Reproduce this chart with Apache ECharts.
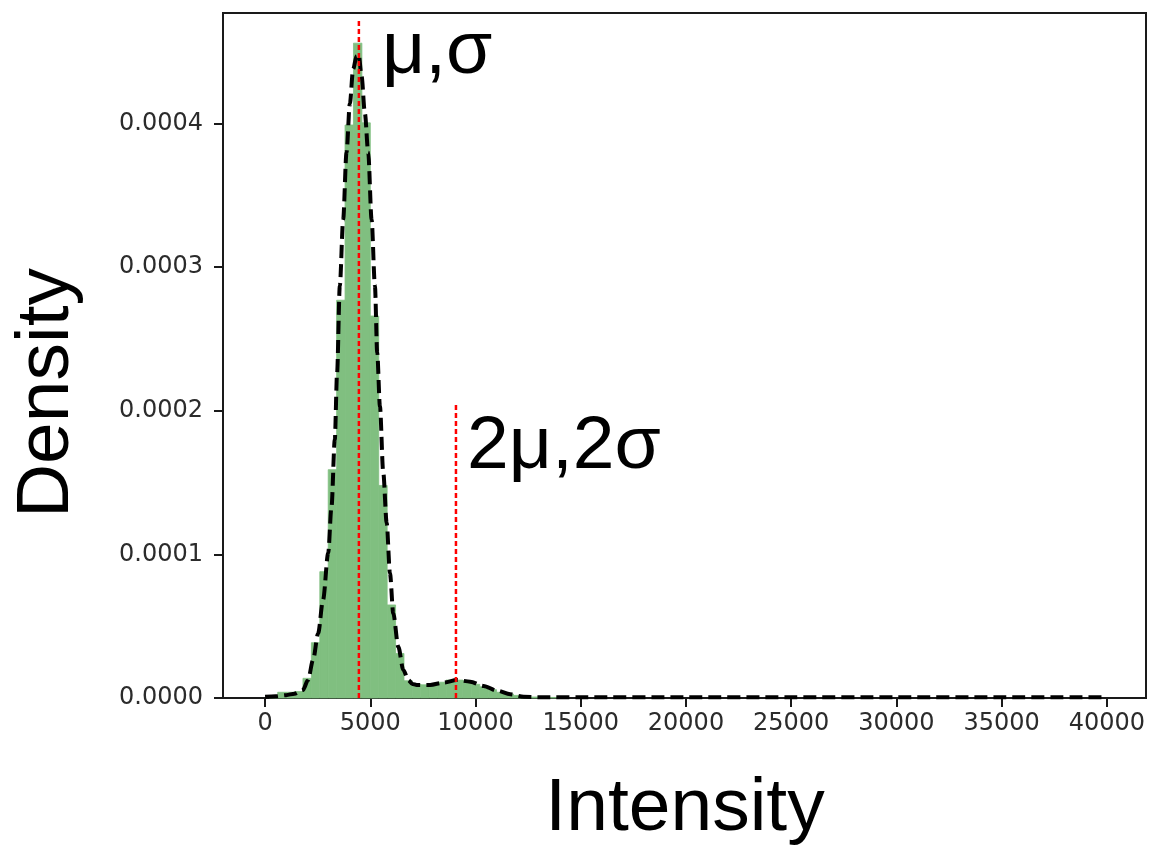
<!DOCTYPE html>
<html><head><meta charset="utf-8">
<script src="https://cdn.jsdelivr.net/npm/echarts@6/dist/echarts.min.js"></script>
<style>html,body{margin:0;padding:0;background:#fff}#c{width:1150px;height:846px}</style>
</head><body><div id="c"></div>
<script>
// Histogram bins (left edge of each bin) and density values
const BIN_WIDTH = 400;
const binStarts = [200, 600, 1000, 1400, 1800, 2200, 2600, 3000, 3400, 3800, 4200, 4600, 5000, 5400, 5800, 6200, 6600, 7000, 7400, 7800, 8200, 8600, 9000, 9400, 9800, 10200, 10600, 11000, 11400, 11800, 12200, 12600, 13000, 13400, 13800];
const binDensity = [0.0000008, 0.000004, 0.000004, 0.0000045, 0.0000137, 0.0000385, 0.000088, 0.000159, 0.000277, 0.000399, 0.000456, 0.0004005, 0.000266, 0.000148, 0.0000648, 0.000031, 0.000012, 0.0000095, 0.0000092, 0.0000095, 0.000011, 0.0000125, 0.0000125, 0.000012, 0.0000095, 0.0000078, 0.0000058, 0.000004, 0.0000028, 0.0000018, 0.000001, 0.0000007, 0.0000005, 0.0000004, 0.0000003];

// Density curve (dashed)
const kdeX = [0, 500, 1000, 1400, 1800, 2040, 2280, 2520, 2755, 3000, 3155, 3313, 3420, 3551, 3709, 3870, 4028, 4185, 4347, 4450, 4585, 4743, 4900, 5062, 5219, 5329, 5458, 5615, 5777, 5934, 6091, 6330, 6568, 6807, 7000, 7205, 7840, 8475, 9113, 9747, 10381, 11020, 11654, 12288, 13000, 15000, 20000, 25000, 30000, 35000, 39800];
const kdeY = [0.0000008, 0.0000012, 0.000002, 0.000003, 0.0000056, 0.0000125, 0.0000265, 0.000045, 0.0000683, 0.000101, 0.000133, 0.00018, 0.000226, 0.000287, 0.000333, 0.00038, 0.000414, 0.000438, 0.000447, 0.000448, 0.000433, 0.000407, 0.00038, 0.000333, 0.000287, 0.00024, 0.000203, 0.000157, 0.000122, 0.0000869, 0.000059, 0.0000357, 0.0000195, 0.0000125, 0.0000098, 0.0000091, 0.0000091, 0.0000107, 0.0000125, 0.0000114, 0.0000084, 0.0000051, 0.0000026, 0.0000009, 0.0000006, 0.0000005, 0.0000005, 0.0000005, 0.0000005, 0.0000005, 0.0000005];

// Red reference lines
const refLineX = [4457, 9070];
const refLineTop = [0.000473, 0.000206];
const refLabels = ['μ,σ', '2μ,2σ'];

// Ticks
const xTicks = [0, 5000, 10000, 15000, 20000, 25000, 30000, 35000, 40000];
const yTicks = [0, 0.0001, 0.0002, 0.0003, 0.0004];

const chart = echarts.init(document.getElementById('c'), null, {renderer: 'canvas'});
const axisColor = '#1a1a1a';
const tickFont = {fontFamily: 'DejaVu Sans', fontSize: 24, color: '#2b2b2b'};
const bigFont = '75px "Liberation Sans", Arial, sans-serif';

const barData = binStarts.map((s, i) => [s, s + BIN_WIDTH, binDensity[i]]);
const kdeData = kdeX.map((x, i) => [x, kdeY[i]]);

const refSeries = refLineX.map((x, i) => ({
  type: 'line', z: 5, symbol: 'none', silent: true,
  data: [[x, 0], [x, refLineTop[i]]],
  lineStyle: {color: '#ff0000', width: 2.5, type: [5, 3]}
}));

chart.setOption({
  animation: false,
  backgroundColor: '#fff',
  grid: {left: 223, right: 4, top: 13, bottom: 148, show: true, borderColor: axisColor, borderWidth: 2, backgroundColor: 'transparent'},
  xAxis: {
    type: 'value', min: -2000, max: 41860,
    splitLine: {show: false},
    axisLine: {show: true, onZero: false, lineStyle: {color: axisColor, width: 2}},
    axisTick: {show: true, customValues: xTicks, length: 9, lineStyle: {color: axisColor, width: 2}},
    axisLabel: Object.assign({customValues: xTicks, margin: 14, formatter: v => String(v)}, tickFont)
  },
  yAxis: {
    type: 'value', min: 0, max: 0.000477,
    splitLine: {show: false},
    axisLine: {show: true, onZero: false, lineStyle: {color: axisColor, width: 2}},
    axisTick: {show: true, customValues: yTicks, length: 9, lineStyle: {color: axisColor, width: 2}},
    axisLabel: Object.assign({customValues: yTicks, margin: 20, formatter: v => Number(v).toFixed(4)}, tickFont)
  },
  series: [
    {
      type: 'custom', z: 2, silent: true,
      data: barData,
      encode: {x: [0, 1], y: 2},
      renderItem: function (params, api) {
        const p0 = api.coord([api.value(0), api.value(2)]);
        const p1 = api.coord([api.value(1), 0]);
        return {type: 'rect', shape: {x: p0[0], y: p0[1], width: p1[0] - p0[0], height: p1[1] - p0[1]},
          style: {fill: '#80bf80', stroke: '#80bf80', lineWidth: 0.8}};
      }
    },
    {
      type: 'line', z: 4, symbol: 'none', silent: true,
      smooth: 0.3, smoothMonotone: 'x',
      data: kdeData,
      lineStyle: {color: '#000', width: 4, type: [13, 6]}
    }
  ].concat(refSeries),
  graphic: [
    {type: 'text', x: 382, y: 52, style: {text: refLabels[0], font: bigFont, fill: '#000', verticalAlign: 'middle', align: 'left'}},
    {type: 'text', x: 467, y: 447, style: {text: refLabels[1], font: bigFont, fill: '#000', verticalAlign: 'middle', align: 'left'}},
    {type: 'text', x: 685, y: 809, style: {text: 'Intensity', font: bigFont, fill: '#000', verticalAlign: 'middle', align: 'center'}},
    {type: 'text', x: 47, y: 393, rotation: Math.PI / 2, style: {text: 'Density', font: bigFont, fill: '#000', verticalAlign: 'middle', align: 'center'}}
  ]
});
</script>
</body></html>
